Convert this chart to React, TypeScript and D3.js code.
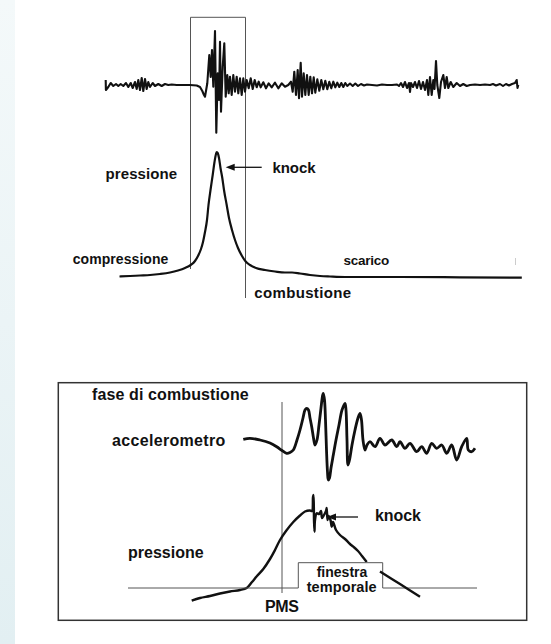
import React from "react";
import * as d3 from "d3";

// ---------- DATA ----------
// Top panel: accelerometer trace [time, amplitude]
const TOP_ACCEL: [number, number][] = [
  [5.7,5],[5.9,-5],[8.3,-2],[10.7,2],[13.3,-1],[16,1],[18.3,-1],[20.7,1],[23.3,-1],[26,2],[28.3,-2],[30.7,2],[32.7,-3],[35,3],[36.7,-4],[38.3,5],[40,-5],[41.7,7],[43.3,-6],[45,6],[46.7,-4],[48.3,3],[50,-2],[52.7,2],[55,-1],[58.3,1],[61.7,-1],[65,1],[68.3,0],[71.7,0.5],[76.7,0],[83.3,0],[90,0],[96.7,-0.5],[100,-2],[102.3,-6],[104,-10],[105,-11.7],[107.3,1.7],[109.3,30],[110.7,8],[112,35],[113.3,-1.7],[115,54],[116.3,-47.7],[117.7,11.7],[119,-15],[120,43.3],[121,-26.7],[122.7,18.3],[124.3,41.7],[125.7,-11.7],[127.3,10],[128.7,-8.3],[130,8.3],[131.7,-10],[133.3,10],[135,-6.7],[136.7,8.3],[138.3,-8.3],[140,6.7],[141.7,-10],[143.3,6.7],[145,-6.7],[146.7,5],[148.7,-3.3],[150.7,6.7],[152.7,-4],[154.7,5],[156.7,-2.3],[158.7,3.3],[160.7,-2.3],[163.3,2.7],[166,-3.3],[168.7,1.7],[171.7,-2.3],[175,2.3],[178.3,-3.3],[181.7,1.7],[185,-1.7],[188.3,0],[191,3.3],[192.7,-6.7],[194.3,13.3],[196,-10],[197.7,15],[199,-13.3],[200.7,22.3],[202,-11.7],[203.7,11.7],[205.3,-10],[207,10],[208.7,-10],[210.3,8.3],[212,-8.3],[213.7,7.7],[215.3,-7.7],[217.3,5.7],[219.3,-5.7],[221.3,5],[223.3,-4.3],[225.3,4.3],[227.3,-4.3],[229.3,3.3],[231.3,-3.3],[233.3,3.3],[235.3,-2.3],[237.3,2.3],[239.3,-2],[241.3,2],[243.3,-2],[245.3,2],[247.3,-1],[250,1.5],[252.7,-1],[255.3,1.5],[258,-1],[261,1],[264,-0.5],[267,0.5],[272,0],[277,-0.5],[282,0.5],[287,0],[292,0],[297,0.5],[299,-1],[301,2],[303,-2],[305,3],[307,-3],[309,2],[310,-7],[311,2],[313,-2],[315,3],[317,-3],[319,4],[321,-4],[323,3],[325,-5],[327,5],[328.3,-10],[330,8],[331.7,-10],[333.3,5],[334.5,-4],[336,24],[337.3,0],[339.3,-13],[341,3],[343.3,10],[345,-3],[346.7,8],[348.3,-3],[350.7,3],[353.3,-2],[356.7,2],[360,-1],[363.3,1],[366.7,-1],[370,0],[375,0.5],[380,0],[385,0.5],[390,0],[393,1],[396,-0.5],[400,1],[403,-1],[406,1],[409,-0.5],[412,1],[415,2],[416.7,5],[417.5,-3],[418.3,0]
];

// Top panel: cylinder pressure [time, pressure]
const TOP_PRESSURE: [number, number][] = [
  [19.5,0.5],[30,1],[40,1.5],[50,2],[60,3],[70,4.5],[78,6.5],[85,9],[90.7,12],[95,16],[98,21],[101,28],[103,35],[105,45],[107,57],[108.5,72],[110.5,87],[112.7,102],[114.5,115],[116,123],[116.8,125],[117.7,124],[119,119],[120.5,109],[122.3,99],[124,87],[126.7,72],[129,59],[132,47],[135,37],[138,29],[142,21],[145.7,15.5],[150,12],[156,9],[165,7],[175,5.5],[185,4.5],[192,4.5],[200,3.5],[210,2],[220,1],[230,0.5],[245,0],[300,0],[360,-0.3],[421.8,-0.7]
];

// Bottom panel: accelerometer [time, amplitude]
const BOTTOM_ACCEL: [number, number][] = [
  [53.3,0.7],[60,1.7],[70,0],[80,-3],[86.7,-6.7],[92,-10.5],[96.7,-13.3],[100,-12.5],[103.3,-10],[107,0],[110,10],[113,22],[115,30],[116.7,31.7],[118.5,30],[120,22],[121.7,13.3],[123.5,2],[125,-5],[127,0],[129,15],[131,32],[132.5,44],[133.3,46.7],[134.5,40],[135.5,20],[136.5,-10],[137.5,-32],[138.3,-40],[139.5,-38],[141,-28],[143.3,-15],[146,0],[149,15],[152,30],[155,36.7],[156,30],[157,0],[158,-25],[159.5,-20],[162,-5],[165,10],[168,22],[170,26.7],[171.5,20],[173,0],[175,-10],[177,-5],[180,-1.7],[185,-6.7],[190,1.7],[195,-5],[201.7,0],[206.7,-6.7],[210,-1.7],[215,-8.3],[220,-3.3],[226.7,-11.7],[231.7,-6.7],[236.7,-13.3],[241.7,-3.3],[246.7,-8.3],[251.7,-5],[256.7,-13.3],[261.7,-5],[266.7,-20],[271.7,-6.7],[276.7,1.7],[278.3,-10],[281.7,-11.7],[285,-8.3]
];

// Bottom panel: pressure [time, pressure]
const BOTTOM_PRESSURE: [number, number][] = [
  [1.7,-0.7],[10,2],[20,4],[30,6.5],[40,8.5],[50,10],[56.7,12],[62,18],[67,24],[73.3,31],[80,41],[85,50],[90,60],[96,69],[103.3,78],[110,84.5],[115,88.5],[120,89.5],[122,89],[123,103],[123.5,105],[124,80],[124.5,68.3],[125,80],[126.7,86.7],[129,86],[131,89],[132,82],[134,85],[136,89],[136.7,92],[137.5,80],[138.5,84],[140.5,80],[141.7,73.3],[143,78],[146,70],[150,65],[155,61],[160,56],[163.3,53.3],[168,49],[172,44],[176.7,38]
];
const BOTTOM_PRESSURE_TAIL: [number, number][] = [[190,28.5],[210,16],[230,3.3]];

// Markers along the bottom time axis
const PMS_T = 92;
const WINDOW_T: [number, number] = [108.3, 192.7];

const FONT = "'Liberation Sans', Arial, Helvetica, sans-serif";

export default function App() {
  // scales
  const xTop = d3.scaleLinear().domain([0, 422]).range([100, 522]);
  const yTopAcc = d3.scaleLinear().domain([-60, 60]).range([145, 25]);
  const yTopP = d3.scaleLinear().domain([0, 125]).range([277, 152]);
  const xBot = d3.scaleLinear().domain([0, 300]).range([190, 490]);
  const yBotAcc = d3.scaleLinear().domain([-50, 50]).range([490, 390]);
  const yBotP = d3.scaleLinear().domain([0, 110]).range([600, 490]);

  const lineTopAcc = d3.line<[number, number]>().x(d => xTop(d[0])).y(d => yTopAcc(d[1]));
  const lineTopP = d3.line<[number, number]>().x(d => xTop(d[0])).y(d => yTopP(d[1])).curve(d3.curveMonotoneX);
  const lineBotAcc = d3.line<[number, number]>().x(d => xBot(d[0])).y(d => yBotAcc(d[1])).curve(d3.curveCatmullRom.alpha(0.5));
  const lineBotP = d3.line<[number, number]>().x(d => xBot(d[0])).y(d => yBotP(d[1])).curve(d3.curveCatmullRom.alpha(0.5));

  const pmsX = xBot(PMS_T);
  const wx0 = xBot(WINDOW_T[0]);
  const wx1 = xBot(WINDOW_T[1]);
  const baseY = 588;
  const winTop = 562.7;

  const arrow = (x0: number, x1: number, y: number) => {
    const head = 9, hw = 3.5;
    return (
      <g>
        <line x1={x0} y1={y} x2={x1 + head - 1} y2={y} stroke="#111" strokeWidth={1.3} />
        <path d={`M${x1},${y} L${x1 + head},${y - hw} L${x1 + head},${y + hw} Z`} fill="#111" />
      </g>
    );
  };

  const txt = (s: string, x: number, y: number, size: number, len?: number, anchor: string = "start") => (
    <text x={x} y={y} fontFamily={FONT} fontWeight="bold" fontSize={size} fill="#111"
      textAnchor={anchor as any} textLength={len} lengthAdjust={len ? "spacing" : undefined}>{s}</text>
  );

  return (
    <div style={{ position: "absolute", left: 0, top: 0 }}>
      <svg width={551} height={644} style={{ display: "block" }}>
        <defs>
          <linearGradient id="strip" x1="0" y1="0" x2="0" y2="1">
            <stop offset="0" stopColor="#f4f9fa" />
            <stop offset="1" stopColor="#e2eff2" />
          </linearGradient>
        </defs>
        <rect x={0} y={0} width={551} height={644} fill="#ffffff" />
        <rect x={0} y={0} width={15} height={644} fill="url(#strip)" />

        {/* ---------- TOP PANEL ---------- */}
        <path d={`M190.5,269 V17.3 H245.5 V298`} fill="none" stroke="#555" strokeWidth={1} />
        <path d={lineTopAcc(TOP_ACCEL) || ""} fill="none" stroke="#111" strokeWidth={2.1} strokeLinejoin="round" />
        <path d={lineTopP(TOP_PRESSURE) || ""} fill="none" stroke="#111" strokeWidth={2.2} strokeLinejoin="round" />
        <line x1={515.5} y1={258} x2={515.5} y2={265} stroke="#ccc" strokeWidth={1} />
        {arrow(261.7, 225.7, 167.3)}
        {txt("pressione", 105.5, 178.7, 15, 71.7)}
        {txt("knock", 272.5, 173.3, 15, 43)}
        {txt("compressione", 72.7, 264, 14, 95.7)}
        {txt("scarico", 343.6, 265, 13.5, 45.7)}
        {txt("combustione", 254.3, 297.7, 15, 96.7)}

        {/* ---------- BOTTOM PANEL ---------- */}
        <rect x={58.3} y={382.7} width={468.4} height={237.6} fill="none" stroke="#333" strokeWidth={1.5} />
        <line x1={pmsX} y1={402} x2={pmsX} y2={593} stroke="#555" strokeWidth={1} />
        <path d={lineBotP(BOTTOM_PRESSURE) || ""} fill="none" stroke="#111" strokeWidth={2.4} strokeLinejoin="round" />
        <rect x={wx0} y={winTop} width={wx1 - wx0} height={baseY - winTop} fill="#fff" />
        <path d={`M128,${baseY} H${wx0} V${winTop} H${wx1} V${baseY} H477`} fill="none" stroke="#555" strokeWidth={1} />
        <path d={lineBotP(BOTTOM_PRESSURE_TAIL) || ""} fill="none" stroke="#111" strokeWidth={2.4} strokeLinejoin="round" />
        <path d={lineBotAcc(BOTTOM_ACCEL) || ""} fill="none" stroke="#111" strokeWidth={2.8} strokeLinejoin="round" />
        {arrow(358, 327, 517)}
        {txt("fase di combustione", 92, 400, 16, 156.7)}
        {txt("accelerometro", 112, 446, 16, 113.3)}
        {txt("pressione", 128, 558.3, 16, 75.7)}
        {txt("knock", 375, 520.7, 16, 46)}
        {txt("finestra", 342, 576.7, 14, 50.7, "middle")}
        {txt("temporale", 341.7, 591.7, 14.5, 70, "middle")}
        {txt("PMS", pmsX, 612, 16, 34, "middle")}
      </svg>
    </div>
  );
}
